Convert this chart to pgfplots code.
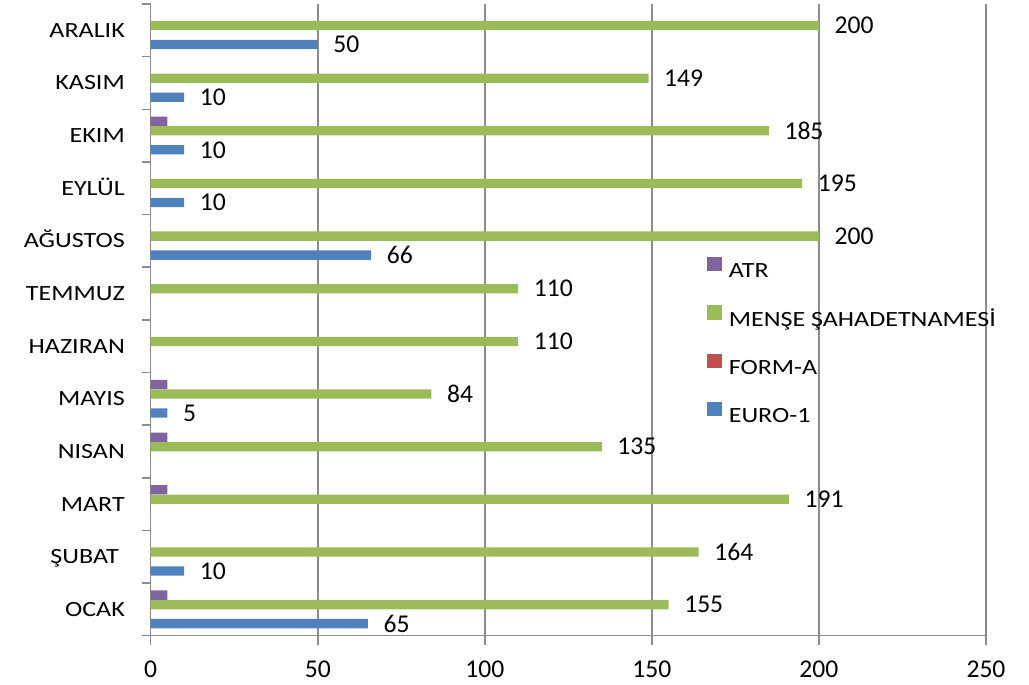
\documentclass[border=0pt]{standalone}
\usepackage{pgfplots}
\pgfplotsset{compat=1.18}
\usepackage{pgfplotstable}
\usepackage{fontspec}
\setmainfont{Carlito}
\newfontfamily\widefont{Carlito}[FakeStretch=1.2]

\definecolor{euroblue}{HTML}{4F81BD}
\definecolor{formred}{HTML}{C0504D}
\definecolor{mensegreen}{HTML}{9BBB59}
\definecolor{atrpurple}{HTML}{8064A2}
\definecolor{gridgray}{HTML}{8C8C8C}

\pgfplotsset{sq legend/.style={legend image code/.code={\fill[##1,draw=none] (0pt,-0.5pt) rectangle (14.3pt,13.8pt);}}}

% months from OCAK (0) to ARALIK (11)
\pgfplotstableread{
idx euro forma mense atr
0  65 0 155 5
1  10 0 164 0
2  0  0 191 5
3  0  0 135 5
4  5  0 84  5
5  0  0 110 0
6  0  0 110 0
7  66 0 200 0
8  10 0 195 0
9  10 0 185 5
10 10 0 149 0
11 50 0 200 0
}\data

\begin{document}
\begin{tikzpicture}
\useasboundingbox (0,0) rectangle (1029pt,685pt);
\begin{axis}[
  at={(150.7pt,49.3pt)}, anchor=south west,
  scale only axis, width=835.3pt, height=631.7pt,
  xbar, bar width=9.3pt,
  xmin=0, xmax=250, ymin=-0.5, ymax=11.5,
  xtick={0,50,...,250}, ytick={0,...,11},
  minor xtick={0,50,...,250}, minor ytick={-0.5,0.5,...,11.5},
  major tick length=0pt, minor tick length=9pt, tick align=outside,
  tick style={draw=gridgray, line width=1.5pt},
  yticklabels={OCAK,{ŞUBAT\kern6pt},MART,NISAN,MAYIS,HAZIRAN,TEMMUZ,AĞUSTOS,EYLÜL,EKIM,KASIM,ARALIK},
  yticklabel style={font=\widefont\fontsize{21.7}{26}\selectfont, anchor=east, inner sep=0pt, text height=14pt, text depth=0pt, xshift=-25.7pt},
  xticklabel style={font=\fontsize{25.6}{30}\selectfont, anchor=north, inner sep=0pt, yshift=-25pt},
  /pgf/number format/assume math mode=true,
  axis x line*=bottom, axis y line*=left,
  axis line style={draw=gridgray, line width=1.5pt, -},
  xmajorgrids, grid style={draw=gridgray, line width=1.5pt},
  point meta=x,
  every node near coord/.append style={anchor=west, inner sep=0pt, xshift=15.5pt, font=\fontsize{25.6}{30}\selectfont, text=black},
  legend style={at={(0.666,0.600)}, anchor=north west, draw=none, fill=none, inner sep=0pt,
    font=\widefont\fontsize{21.7}{26}\selectfont, row sep=27.6pt, column sep=7.3pt,
    nodes={inner sep=0pt, text height=14pt, text depth=0pt}},
  legend cell align=left, reverse legend,
]
\addplot[fill=euroblue, draw=none, bar shift=-14.25pt, nodes near coords, restrict x to domain=0.1:1000, sq legend] table[x=euro, y=idx] {\data};
\addplot[fill=formred, draw=none, bar shift=-4.75pt, sq legend] table[x=forma, y=idx] {\data};
\addplot[fill=mensegreen, draw=none, bar shift=4.75pt, nodes near coords, sq legend] table[x=mense, y=idx] {\data};
\addplot[fill=atrpurple, draw=none, bar shift=14.25pt, restrict x to domain=0.1:1000, sq legend] table[x=atr, y=idx] {\data};
\legend{EURO-1, FORM-A, MENŞE ŞAHADETNAMESİ, ATR}
\end{axis}
\end{tikzpicture}
\end{document}
